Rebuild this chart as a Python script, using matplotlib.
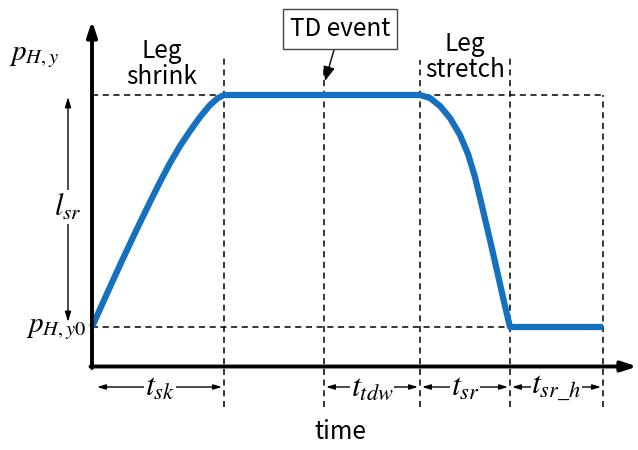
import matplotlib.pyplot as plt

plt.rcParams['font.family'] = ['Noto Sans CJK SC', 'DejaVu Sans']
plt.rcParams['mathtext.fontset'] = 'stix'

# phase boundaries on the time axis (shrink, wait, TD event, stretch, hold)
t_marks = [0.0, 1.32, 2.32, 3.28, 4.18, 5.11]
p_y0 = 0.0
l_sr = 2.32

# foot height trajectory read along the time axis
rise_t = [0.0, 0.13, 0.28, 0.43, 0.58, 0.68, 0.78, 0.88, 0.98, 1.08, 1.18, 1.26, 1.32]
rise_p = [0.0, 0.29, 0.62, 0.94, 1.25, 1.45, 1.64, 1.81, 1.96, 2.10, 2.22, 2.29, 2.32]
fall_t = [3.28, 3.38, 3.48, 3.58, 3.68, 3.76, 3.83, 3.89, 3.98, 4.08, 4.13, 4.18]
fall_p = [2.32, 2.29, 2.21, 2.09, 1.92, 1.73, 1.50, 1.25, 0.87, 0.43, 0.21, 0.0]
curve_t = rise_t + fall_t + [5.11]
curve_p = rise_p + fall_p + [0.0]

# interval labels under the time axis: (start, end, label)
spans = [(0, 1, r'$t_{sk}$'), (2, 3, r'$t_{tdw}$'),
         (3, 4, r'$t_{sr}$'), (4, 5, r'$t_{sr\_h}$')]
vline_tops = [2.70, 2.60, 2.67, 2.70, 2.32]

fig = plt.figure(figsize=(6.38, 4.5), dpi=100)
ax = fig.add_axes([0, 0, 1, 1])
ax.set_xlim(-0.92, 5.46)
ax.set_ylim(-1.23, 3.27)
ax.axis('off')

x_axis_y = -0.395
dash = dict(color='black', lw=1.1, linestyle=(0, (4, 3)))

# reference levels
ax.plot([0, t_marks[-1]], [p_y0 + l_sr] * 2, **dash)
ax.plot([0, t_marks[-1]], [p_y0] * 2, **dash)
for t, top in zip(t_marks[1:], vline_tops):
    ax.plot([t, t], [-0.80, top], **dash)

# trajectory
ax.plot(curve_t, curve_p, color='#1570c0', lw=4.5, solid_joinstyle='round',
        solid_capstyle='butt', zorder=3)

# axes with arrow heads
ax.annotate('', xy=(0, 3.06), xytext=(0, x_axis_y - 0.015),
            arrowprops=dict(arrowstyle='-|>,head_length=0.9,head_width=0.3',
                            lw=2.8, color='black', shrinkA=0, shrinkB=0))
ax.annotate('', xy=(5.45, x_axis_y), xytext=(-0.015, x_axis_y),
            arrowprops=dict(arrowstyle='-|>,head_length=0.9,head_width=0.3',
                            lw=2.8, color='black', shrinkA=0, shrinkB=0))

# l_sr span arrow
ax.annotate('', xy=(-0.24, 0.05), xytext=(-0.24, 2.30),
            arrowprops=dict(arrowstyle='<|-|>,head_length=0.6,head_width=0.18',
                            lw=1.0, color='black', shrinkA=0, shrinkB=0))
ax.text(-0.24, 1.20, r'$l_{sr}$', fontsize=22, ha='center', va='center',
        bbox=dict(facecolor='white', edgecolor='none', pad=1))

ax.text(-0.58, 2.72, r'$p_{H,y}$', fontsize=21, ha='center', va='center')
ax.text(-0.06, p_y0, r'$p_{H,y0}$', fontsize=21, ha='right', va='center')

# interval arrows
arr_y = -0.60
for i0, i1, lab in spans:
    a, b = t_marks[i0], t_marks[i1]
    pad = 0.05 if i0 == 0 else 0.02
    ax.annotate('', xy=(a + pad, arr_y), xytext=(b - 0.02, arr_y),
                arrowprops=dict(arrowstyle='<|-|>,head_length=0.5,head_width=0.15',
                                lw=1.0, color='black', shrinkA=0, shrinkB=0))
    ax.text((a + b) / 2 + (0.02 if i0 == 0 else 0), arr_y, lab, fontsize=23,
            ha='center', va='center',
            bbox=dict(facecolor='white', edgecolor='none', pad=0.5))

ax.text(2.48, -1.05, 'time', fontsize=17.5, ha='center', va='center')

# phase labels
ax.text(0.70, 2.63, 'Leg\nshrink', fontsize=17.5, ha='center', va='center',
        linespacing=1.0)
ax.text(3.73, 2.70, 'Leg\nstretch', fontsize=17.5, ha='center', va='center',
        linespacing=1.0)

# TD event callout
ax.annotate('TD event', xy=(2.33, 2.46), xytext=(2.48, 2.98),
            fontsize=17.5, ha='center', va='center',
            bbox=dict(boxstyle='square,pad=0.3', facecolor='white',
                      edgecolor='#444444', lw=1.0),
            arrowprops=dict(arrowstyle='-|>,head_length=0.5,head_width=0.2',
                            lw=1.0, color='black', shrinkA=0, shrinkB=0))

fig.savefig('out.png', dpi=100)
